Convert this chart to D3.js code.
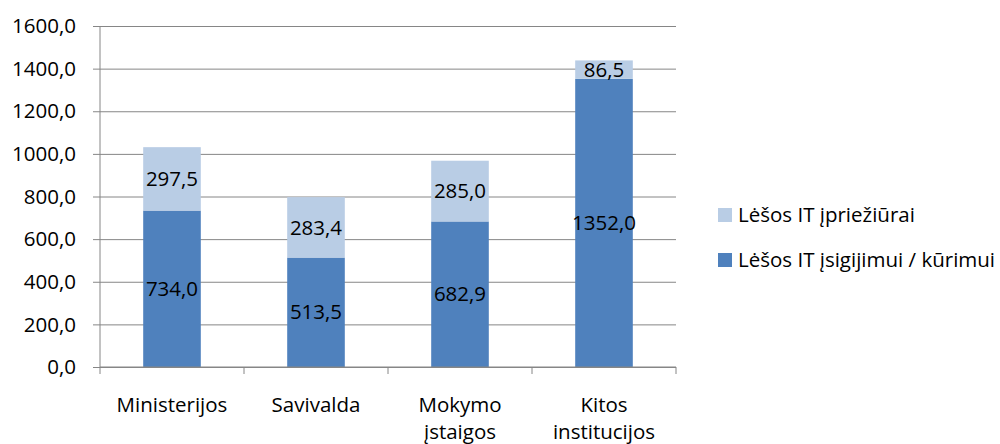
<!DOCTYPE html>
<html>
<head>
<meta charset="utf-8">
<script src="https://cdn.jsdelivr.net/npm/d3@7/dist/d3.min.js"></script>
<style>
  body { margin: 0; background: #fff; }
  text { font-family: "Open Sans", "Noto Sans", sans-serif; fill: #000; }
</style>
</head>
<body>
<svg id="chart" width="1000" height="444"></svg>
<script>
// DATA
const categories = [["Ministerijos"], ["Savivalda"], ["Mokymo", "įstaigos"], ["Kitos", "institucijos"]];
const purchase = [734.0, 513.5, 682.9, 1352.0];   // Lėšos IT įsigijimui / kūrimui
const upkeep = [297.5, 283.4, 285.0, 86.5];        // Lėšos IT įpriežiūrai
const seriesNames = ["Lėšos IT įpriežiūrai", "Lėšos IT įsigijimui / kūrimui"];
const yTicks = [0, 200, 400, 600, 800, 1000, 1200, 1400, 1600];

// LAYOUT
const plotLeft = 100, plotRight = 676, plotTop = 26, plotBottom = 367;
const darkBlue = "#4f81bd", lightBlue = "#b9cde5";
const fontSize = 20.5;

const svg = d3.select("#chart");
const fmt = v => v.toFixed(1).replace(".", ",");

const x = d3.scaleBand()
    .domain(d3.range(categories.length))
    .range([plotLeft, plotRight])
    .paddingInner(0.6)
    .paddingOuter(0.3);

const y = d3.scaleLinear()
    .domain([0, 1600])
    .range([plotBottom, plotTop]);

// gridlines + left ticks
const yAxis = svg.append("g")
    .attr("transform", `translate(${plotLeft},0)`)
    .call(d3.axisLeft(y).tickValues(yTicks).tickSize(-(plotRight - plotLeft)).tickFormat(""));
yAxis.select(".domain").remove();
yAxis.selectAll("line").attr("stroke", "#868686").attr("stroke-width", 1).attr("x1", -7);

// y labels
svg.selectAll(".ylab")
    .data(yTicks)
    .enter()
    .append("text")
    .attr("x", 76)
    .attr("y", d => y(d))
    .attr("dy", "0.35em")
    .attr("text-anchor", "end")
    .style("font-size", fontSize + "px")
    .text(d => fmt(d));

// stacked bars
const stackData = purchase.map((p, i) => ({ i, p, u: upkeep[i] }));

svg.selectAll(".bar-p")
    .data(stackData)
    .enter()
    .append("rect")
    .attr("x", d => x(d.i))
    .attr("width", x.bandwidth())
    .attr("y", d => y(d.p))
    .attr("height", d => y(0) - y(d.p))
    .attr("fill", darkBlue);

svg.selectAll(".bar-u")
    .data(stackData)
    .enter()
    .append("rect")
    .attr("x", d => x(d.i))
    .attr("width", x.bandwidth())
    .attr("y", d => y(d.p + d.u))
    .attr("height", d => y(d.p) - y(d.p + d.u))
    .attr("fill", lightBlue);

// segment labels
svg.selectAll(".lab-p")
    .data(stackData)
    .enter()
    .append("text")
    .attr("x", d => x(d.i) + x.bandwidth() / 2)
    .attr("y", d => y(d.p / 2))
    .attr("dy", "0.35em")
    .attr("text-anchor", "middle")
    .style("font-size", fontSize + "px")
    .text(d => fmt(d.p));

svg.selectAll(".lab-u")
    .data(stackData)
    .enter()
    .append("text")
    .attr("x", d => x(d.i) + x.bandwidth() / 2)
    .attr("y", d => y(d.p + d.u / 2))
    .attr("dy", "0.35em")
    .attr("text-anchor", "middle")
    .style("font-size", fontSize + "px")
    .text(d => fmt(d.u));

// axes lines
svg.append("line")
    .attr("x1", plotLeft).attr("x2", plotLeft)
    .attr("y1", plotTop).attr("y2", plotBottom)
    .attr("stroke", "#868686");

svg.append("line")
    .attr("x1", plotLeft).attr("x2", plotRight)
    .attr("y1", plotBottom).attr("y2", plotBottom)
    .attr("stroke", "#868686");

// category boundary ticks
const bandEdges = d3.range(categories.length + 1).map(i => plotLeft + i * (plotRight - plotLeft) / categories.length);
svg.selectAll(".xtick")
    .data(bandEdges)
    .enter()
    .append("line")
    .attr("x1", d => d).attr("x2", d => d)
    .attr("y1", plotBottom).attr("y2", plotBottom + 7)
    .attr("stroke", "#868686");

// category labels
const catText = svg.selectAll(".cat")
    .data(categories)
    .enter()
    .append("text")
    .attr("x", (d, i) => x(i) + x.bandwidth() / 2)
    .attr("y", 412)
    .attr("text-anchor", "middle")
    .style("font-size", fontSize + "px");

catText.selectAll("tspan")
    .data(d => d)
    .enter()
    .append("tspan")
    .attr("x", function () { return d3.select(this.parentNode).attr("x"); })
    .attr("dy", (d, j) => j === 0 ? 0 : 27)
    .text(d => d);

// legend
const legend = svg.selectAll(".legend")
    .data(seriesNames)
    .enter()
    .append("g")
    .attr("transform", (d, i) => `translate(718,${208 + i * 45})`);

legend.append("rect")
    .attr("width", 14)
    .attr("height", 14)
    .attr("fill", (d, i) => i === 0 ? lightBlue : darkBlue);

legend.append("text")
    .attr("x", 20)
    .attr("y", 7)
    .attr("dy", "0.35em")
    .style("font-size", fontSize + "px")
    .text(d => d);
</script>
</body>
</html>
